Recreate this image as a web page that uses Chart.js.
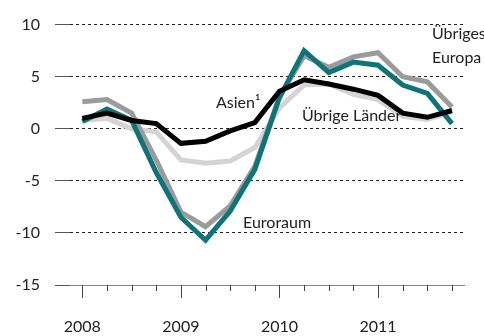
<!DOCTYPE html>
<html>
<head>
<meta charset="utf-8">
<script src="https://cdn.jsdelivr.net/npm/chart.js@4"></script>
<style>
  html, body { margin: 0; padding: 0; background: #fff; }
  #box { width: 484px; height: 336px; position: relative; }
</style>
</head>
<body>
<div id="box"><canvas id="myChart"></canvas></div>
<script>
const quartale = ['2008 Q1', '2008 Q2', '2008 Q3', '2008 Q4',
                  '2009 Q1', '2009 Q2', '2009 Q3', '2009 Q4',
                  '2010 Q1', '2010 Q2', '2010 Q3', '2010 Q4',
                  '2011 Q1', '2011 Q2', '2011 Q3', '2011 Q4'];

const euroraum      = [0.7, 1.9, 0.8, -4.2, -8.5, -10.7, -7.9, -3.9, 3.0, 7.5, 5.4, 6.4, 6.1, 4.2, 3.4, 0.5];
const uebrigesEuropa = [2.6, 2.8, 1.5, -3.0, -8.0, -9.4, -7.4, -3.6, 3.1, 7.0, 5.9, 6.9, 7.3, 5.0, 4.5, 2.1];
const asien         = [0.8, 1.0, 0.0, -0.3, -3.0, -3.3, -3.1, -1.8, 2.0, 4.2, 4.3, 3.3, 2.8, 1.2, 0.9, 1.6];
const uebrigeLaender = [1.0, 1.5, 0.8, 0.5, -1.4, -1.2, -0.2, 0.6, 3.6, 4.7, 4.3, 3.8, 3.2, 1.5, 1.1, 1.75];

const yTicks = [-15, -10, -5, 0, 5, 10];

const schrift = 'Lato, "Open Sans", sans-serif';

// Beschriftungen direkt an den Linien
const beschriftungen = [
  { text: 'Übriges', x: 432, y: 39 },
  { text: 'Europa', x: 432, y: 63 },
  { text: 'Asien¹', x: 216, y: 108 },
  { text: 'Übrige Länder', x: 302, y: 121 },
  { text: 'Euroraum', x: 243, y: 228 }
];

const textPlugin = {
  id: 'textPlugin',
  afterDatasetsDraw(chart) {
    const c = chart.ctx;
    c.save();
    c.font = '16px ' + schrift;
    c.fillStyle = '#222';
    c.textBaseline = 'alphabetic';
    c.textAlign = 'left';
    beschriftungen.forEach(b => c.fillText(b.text, b.x, b.y));
    c.restore();
  }
};

// Quartalsstriche unter der x-Achse, Jahresanfang länger
const quartalStriche = {
  id: 'quartalStriche',
  afterDraw(chart) {
    const c = chart.ctx;
    const x = chart.scales.x;
    const unten = chart.chartArea.bottom;
    c.save();
    c.strokeStyle = '#444';
    c.lineWidth = 1;
    quartale.forEach((q, i) => {
      const px = Math.round(x.getPixelForValue(i)) + 0.5;
      c.beginPath();
      c.moveTo(px, unten);
      c.lineTo(px, unten + (i % 4 === 0 ? 13 : 6));
      c.stroke();
    });
    c.restore();
  }
};

function linie(label, data, farbe) {
  return {
    label: label,
    data: data,
    borderColor: farbe,
    backgroundColor: farbe,
    borderWidth: 5,
    pointRadius: 0,
    tension: 0,
    borderJoinStyle: 'miter',
    borderCapStyle: 'butt'
  };
}

const ctx = document.getElementById('myChart');

const chart = new Chart(ctx, {
  type: 'line',
  data: {
    labels: quartale,
    // erster Datensatz liegt oben
    datasets: [
      linie('Übrige Länder', uebrigeLaender, '#000000'),
      linie('Euroraum', euroraum, '#0f7479'),
      linie('Übriges Europa', uebrigesEuropa, '#9b9b9b'),
      linie('Asien', asien, '#d4d4d4')
    ]
  },
  options: {
    responsive: true,
    maintainAspectRatio: false,
    animation: false,
    layout: { padding: { top: 20, right: 0, left: 0, bottom: 0 } },
    plugins: {
      legend: { display: false },
      tooltip: { enabled: false }
    },
    scales: {
      x: {
        offset: true,
        grid: { display: true, drawOnChartArea: false, drawTicks: false },
        border: { display: true, color: '#888', width: 1 },
        ticks: {
          autoSkip: false,
          maxRotation: 0,
          padding: 32,
          color: '#222',
          font: { family: schrift, size: 16 },
          callback: (v, i) => (i % 4 === 0 ? quartale[i].slice(0, 4) : '')
        },
        afterFit: s => { s.height = 51; }
      },
      y: {
        min: -15,
        max: 10,
        afterBuildTicks: s => { s.ticks = yTicks.map(v => ({ value: v })); },
        grid: {
          color: '#222',
          lineWidth: 1,
          tickLength: 15,
          tickColor: '#555',
          tickWidth: 1,
          tickBorderDash: []
        },
        border: { display: false, dash: [3, 3] },
        ticks: {
          padding: 15,
          color: '#222',
          font: { family: schrift, size: 16 }
        },
        afterFit: s => { s.width = 70; }
      }
    }
  },
  plugins: [textPlugin, quartalStriche]
});
</script>
</body>
</html>
